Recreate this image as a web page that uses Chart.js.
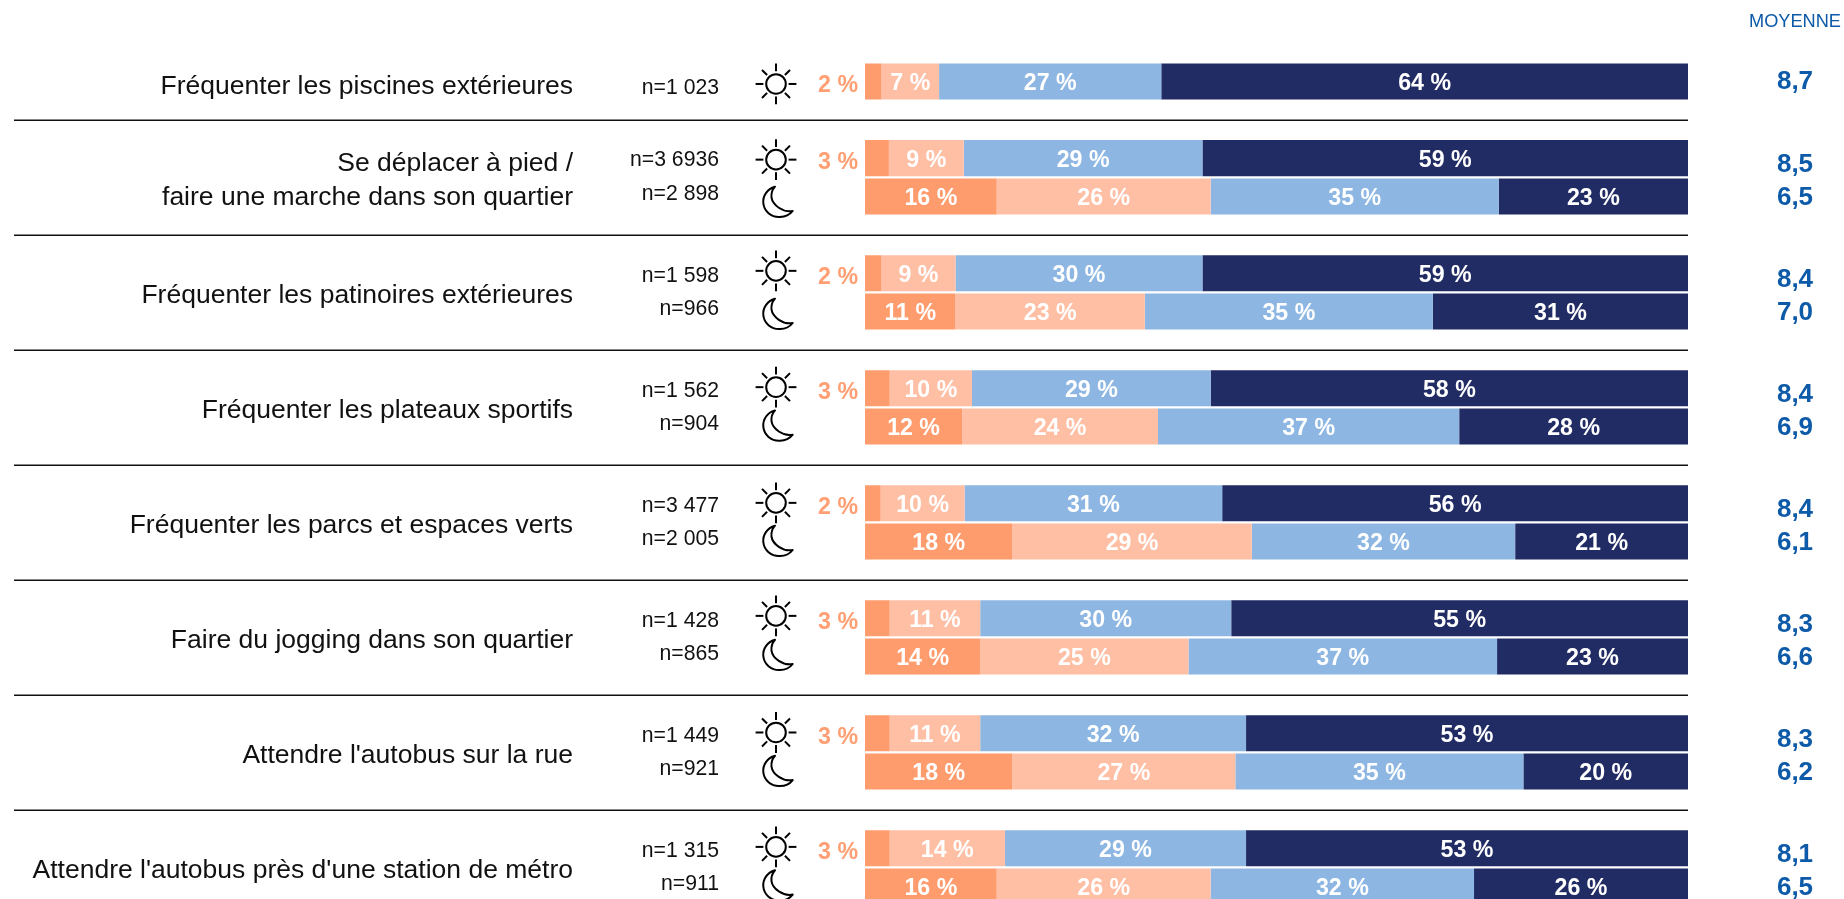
<!DOCTYPE html>
<html lang="fr">
<head>
<meta charset="utf-8">
<title>Sentiment de sécurité</title>
<script src="https://cdn.jsdelivr.net/npm/chart.js@4"></script>
<style>
html,body{margin:0;padding:0;background:#fff;width:1844px;height:899px;overflow:hidden}
#wrap{width:1844px;height:899px;overflow:hidden;position:relative}
canvas{display:block}
</style>
</head>
<body>
<div id="wrap"><canvas id="c" width="1844" height="906"></canvas></div>
<script>
// One row per bar; empty rows ("") are the gaps that hold the separators.
const categories = [
  "Piscines – jour","",
  "Marche – jour","Marche – nuit","",
  "Patinoires – jour","Patinoires – nuit","",
  "Plateaux – jour","Plateaux – nuit","",
  "Parcs – jour","Parcs – nuit","",
  "Jogging – jour","Jogging – nuit","",
  "Autobus rue – jour","Autobus rue – nuit","",
  "Autobus métro – jour","Autobus métro – nuit"
];
// bar lengths as measured on the picture
const seriesA = [2.0,null, 2.9,16.0,null, 2.0,11.0,null, 3.0,11.8,null, 1.9,17.9,null, 3.0,14.0,null, 3.0,17.9,null, 3.0,16.0];
const seriesB = [7.0,null, 9.1,26.0,null, 9.0,23.0,null,10.0,23.8,null,10.2,29.1,null,11.0,25.3,null,11.0,27.1,null,14.0,26.0];
const seriesC = [27.0,null,29.0,35.0,null,30.0,35.0,null,29.0,36.6,null,31.3,32.0,null,30.5,37.5,null,32.3,35.0,null,29.3,32.0];
const seriesD = [64.0,null,59.0,23.0,null,59.0,31.0,null,58.0,27.8,null,56.6,21.0,null,55.5,23.2,null,53.7,20.0,null,53.7,26.0];
// percentages as printed on the picture
const printedA = [2,null, 3,16,null, 2,11,null, 3,12,null, 2,18,null, 3,14,null, 3,18,null, 3,16];
const printedB = [7,null, 9,26,null, 9,23,null,10,24,null,10,29,null,11,25,null,11,27,null,14,26];
const printedC = [27,null,29,35,null,30,35,null,29,37,null,31,32,null,30,37,null,32,35,null,29,32];
const printedD = [64,null,59,23,null,59,31,null,58,28,null,56,21,null,55,23,null,53,20,null,53,26];
const sampleSizes = ["n=1 023",null,"n=3 6936","n=2 898",null,"n=1 598","n=966",null,"n=1 562","n=904",null,"n=3 477","n=2 005",null,"n=1 428","n=865",null,"n=1 449","n=921",null,"n=1 315","n=911"];
const moyennes = ["8,7",null,"8,5","6,5",null,"8,4","7,0",null,"8,4","6,9",null,"8,4","6,1",null,"8,3","6,6",null,"8,3","6,2",null,"8,1","6,5"];
const periods = ["sun",null,"sun","moon",null,"sun","moon",null,"sun","moon",null,"sun","moon",null,"sun","moon",null,"sun","moon",null,"sun","moon"];
const activities = [
  ["Fréquenter les piscines extérieures"],
  ["Se déplacer à pied /","faire une marche dans son quartier"],
  ["Fréquenter les patinoires extérieures"],
  ["Fréquenter les plateaux sportifs"],
  ["Fréquenter les parcs et espaces verts"],
  ["Faire du jogging dans son quartier"],
  ["Attendre l'autobus sur la rue"],
  ["Attendre l'autobus près d'une station de métro"]
];
const activityFirstRow = [0,2,5,8,11,14,17,20];
const separatorRows = [1,4,7,10,13,16,19];
const moyenneTitle = "MOYENNE";

const colors = ["#FF9C6E","#FFBFA5","#8DB7E2","#222C64"];
const FONT = '"Liberation Sans", Arial, sans-serif';
const labelOrange = "#FF9F73", blue = "#0C5AA8";
// small vertical nudges of the icons relative to their row
const iconNudge = {0:2.5,2:1.5,3:5.5,5:-2.3,6:2.5,8:-1,9:-.8,11:-.3,12:-.5,14:-2.3,15:-1.5,17:-.7,18:-.5,20:-1.3,21:-1};
const printed = [printedA,printedB,printedC,printedD];

function drawSun(ctx,x,y){
  ctx.save();ctx.translate(x,y);ctx.strokeStyle="#000";ctx.lineWidth=2;ctx.lineCap="butt";
  ctx.beginPath();ctx.arc(0,0,9.8,0,Math.PI*2);ctx.stroke();
  for(let i=0;i<8;i++){
    const a=i*Math.PI/4,r0=12.6,r1=i%2?19.8:20.4;
    ctx.beginPath();ctx.moveTo(Math.cos(a)*r0,Math.sin(a)*r0);ctx.lineTo(Math.cos(a)*r1,Math.sin(a)*r1);ctx.stroke();
  }
  ctx.restore();
}
function drawMoon(ctx,x,y){
  ctx.save();ctx.translate(x,y);ctx.strokeStyle="#000";ctx.lineWidth=2;ctx.lineJoin="round";
  ctx.beginPath();ctx.moveTo(-3,-15.3);
  ctx.bezierCurveTo(-11,-13,-15.3,-6,-14.7,1);
  ctx.bezierCurveTo(-14,9,-7,15.5,2,15);
  ctx.bezierCurveTo(7,15,12,12.5,14.7,9);
  ctx.bezierCurveTo(5,11,-5.5,3,-6.5,-4.5);
  ctx.bezierCurveTo(-7,-9,-5.5,-12.5,-3,-15.3);
  ctx.closePath();ctx.stroke();ctx.restore();
}

const annotate = {
  id:"annotate",
  afterDatasetsDraw(chart){
    const {ctx,scales:{x,y}} = chart;
    ctx.save();
    // separators
    ctx.strokeStyle="#111";ctx.lineWidth=1.5;
    separatorRows.forEach(r=>{
      const py=Math.round(y.getPixelForValue(r))+.25;
      ctx.beginPath();ctx.moveTo(14,py);ctx.lineTo(x.right,py);ctx.stroke();
    });
    // values on the bars
    ctx.textBaseline="middle";
    ctx.font='bold 23.2px '+FONT;
    chart.data.datasets.forEach((ds,di)=>{
      const meta=chart.getDatasetMeta(di);
      ds.data.forEach((v,r)=>{
        if(v==null)return;
        const p=meta.data[r].getProps(["x","y","base"],true);
        const txt=printed[di][r]+" %";
        if(di===0&&v<5){
          ctx.fillStyle=labelOrange;ctx.textAlign="right";
          ctx.fillText(txt,x.getPixelForValue(0)-7,p.y+4);
        }else{
          ctx.fillStyle="#fff";ctx.textAlign="center";
          ctx.fillText(txt,(p.x+p.base)/2,p.y+2);
        }
      });
    });
    // n=, icons, means
    categories.forEach((c,r)=>{
      if(!c)return;
      const py=y.getPixelForValue(r);
      const isMoon=periods[r]==="moon";
      ctx.fillStyle="#111";ctx.textAlign="right";ctx.font='21.2px '+FONT;
      ctx.fillText(sampleSizes[r],719,py+(r===0?7:(isMoon?-2.2:2.5)));
      if(isMoon)drawMoon(ctx,778,py+iconNudge[r]);else drawSun(ctx,776,py+iconNudge[r]);
      ctx.fillStyle=blue;ctx.textAlign="center";ctx.font='bold 26px '+FONT;
      ctx.fillText(moyennes[r],1795,py+(r===0?0.5:(isMoon?1.5:6.5)));
    });
    // activity names
    ctx.fillStyle="#111";ctx.textAlign="right";ctx.font='26.5px '+FONT;
    activities.forEach((lines,i)=>{
      const r=activityFirstRow[i];
      const centre=i===0?y.getPixelForValue(r)+5:(y.getPixelForValue(r)+y.getPixelForValue(r+1))/2+3.5;
      lines.forEach((t,k)=>ctx.fillText(t,573,centre+(k-(lines.length-1)/2)*34));
    });
    ctx.fillStyle=blue;ctx.textAlign="right";ctx.font='18.2px '+FONT;
    ctx.fillText(moyenneTitle,1841,22);
    ctx.restore();
  }
};

new Chart(document.getElementById("c"),{
  type:"bar",
  data:{
    labels:categories,
    datasets:[seriesA,seriesB,seriesC,seriesD].map((d,i)=>({
      label:["Série 1","Série 2","Série 3","Série 4"][i],
      data:d,backgroundColor:colors[i],borderWidth:0,
      barPercentage:.94,categoryPercentage:1
    }))
  },
  options:{
    indexAxis:"y",responsive:false,animation:false,
    layout:{padding:{left:865,right:156,top:62.3,bottom:0.3}},
    plugins:{legend:{display:false},title:{display:false},tooltip:{enabled:false}},
    scales:{
      x:{stacked:true,min:0,max:100,display:false},
      y:{stacked:true,display:false,offset:true,grid:{display:false}}
    }
  },
  plugins:[annotate]
});
</script>
</body>
</html>
